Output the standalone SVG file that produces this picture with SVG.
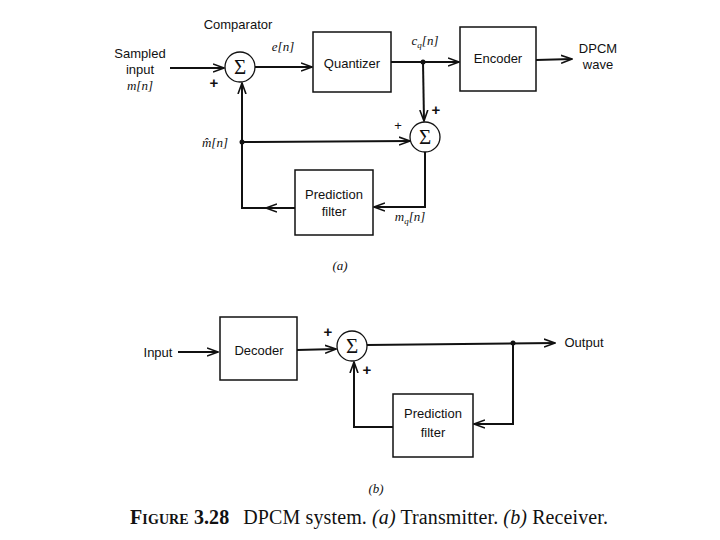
<svg xmlns="http://www.w3.org/2000/svg" width="720" height="540" viewBox="0 0 720 540">
<defs>
<marker id="ah" markerWidth="12" markerHeight="10" refX="11" refY="5" orient="auto" markerUnits="userSpaceOnUse">
<path d="M0,1 L11,5 L0,9" fill="none" stroke="#111" stroke-width="1.6"/>
</marker>
<style>
.box{fill:none;stroke:#111;stroke-width:1.5}
.ln{fill:none;stroke:#111;stroke-width:2}
.c{fill:#fff;stroke:#111;stroke-width:1.3}
.t{font-family:"Liberation Sans",Arial,sans-serif;font-size:13px;fill:#111}
.p{font-family:"Liberation Sans",Arial,sans-serif;font-size:15px;font-weight:bold;fill:#111}
.m{font-family:"Liberation Serif","Times New Roman",serif;font-style:italic;font-size:13px;fill:#111}
.sg{font-family:"Liberation Serif","Times New Roman",serif;font-size:21px;fill:#111}
.cap{font-family:"Liberation Serif","Times New Roman",serif;font-size:20px;fill:#111}
</style>
</defs>
<rect width="720" height="540" fill="#fff"/>

<g id="connectors">
<line class="ln" x1="170" y1="68" x2="224" y2="68" marker-end="url(#ah)"/>
<line class="ln" x1="255" y1="67" x2="312" y2="67" marker-end="url(#ah)"/>
<line class="ln" x1="391" y1="62" x2="459" y2="62" marker-end="url(#ah)"/>
<line class="ln" x1="536" y1="60" x2="572" y2="59" marker-end="url(#ah)"/>
<line class="ln" x1="423" y1="62" x2="424" y2="121" marker-end="url(#ah)"/>
<line class="ln" x1="242" y1="142" x2="410" y2="141" marker-end="url(#ah)"/>
<polyline class="ln" points="425,152 425,207 374,207" marker-end="url(#ah)"/>
<line class="ln" x1="295" y1="208" x2="266" y2="208" marker-end="url(#ah)"/>
<polyline class="ln" points="270,208 242,208 242,83" marker-end="url(#ah)"/>
<circle cx="423" cy="62" r="2.5" fill="#111"/>
<circle cx="242" cy="142" r="2.5" fill="#111"/>

<line class="ln" x1="178" y1="352" x2="218" y2="352" marker-end="url(#ah)"/>
<line class="ln" x1="297" y1="350" x2="336" y2="349" marker-end="url(#ah)"/>
<line class="ln" x1="367" y1="345" x2="555" y2="343" marker-end="url(#ah)"/>
<polyline class="ln" points="513,343 513,424 474,424" marker-end="url(#ah)"/>
<polyline class="ln" points="393,427 354,427 354,362" marker-end="url(#ah)"/>
<circle cx="513" cy="343" r="2.5" fill="#111"/>
</g>

<g id="comparator">
<circle class="c" cx="240" cy="67" r="15"/>
<text class="sg" x="240" y="74" text-anchor="middle">Σ</text>
<text class="t" x="238" y="29" text-anchor="middle">Comparator</text>
<text class="p" x="214" y="88" text-anchor="middle">+</text>
</g>
<g id="sampled-input">
<text class="t" x="140" y="58" text-anchor="middle">Sampled</text>
<text class="t" x="140" y="74" text-anchor="middle">input</text>
<text class="m" x="140" y="90" text-anchor="middle">m[n]</text>
</g>
<g id="quantizer">
<rect class="box" x="313" y="32" width="78" height="60"/>
<text class="t" x="352" y="68" text-anchor="middle">Quantizer</text>
<text class="m" x="283" y="51" text-anchor="middle">e[n]</text>
</g>
<g id="encoder">
<rect class="box" x="460" y="27" width="76" height="64"/>
<text class="t" x="498" y="63" text-anchor="middle">Encoder</text>
<text class="m" x="425" y="45" text-anchor="middle">c<tspan font-size="9" dy="3">q</tspan><tspan dy="-3">[n]</tspan></text>
</g>
<g id="dpcm-wave">
<text class="t" x="598" y="53" text-anchor="middle">DPCM</text>
<text class="t" x="598" y="69" text-anchor="middle">wave</text>
</g>
<g id="adder-tx">
<circle class="c" cx="425" cy="137" r="15"/>
<text class="sg" x="425" y="144" text-anchor="middle">Σ</text>
<text class="p" x="436" y="115" text-anchor="middle">+</text>
<text class="t" x="398" y="130" text-anchor="middle">+</text>
</g>
<g id="prediction-filter-tx">
<rect class="box" x="295" y="170" width="78" height="65"/>
<text class="t" x="334" y="199" text-anchor="middle">Prediction</text>
<text class="t" x="334" y="216" text-anchor="middle">filter</text>
<text class="m" x="410" y="221" text-anchor="middle">m<tspan font-size="9" dy="3">q</tspan><tspan dy="-3">[n]</tspan></text>
<text class="m" x="215" y="147" text-anchor="middle">m̂[n]</text>
</g>
<text class="m" x="340" y="270" text-anchor="middle">(a)</text>

<g id="input-rx">
<text class="t" x="158" y="357" text-anchor="middle">Input</text>
</g>
<g id="decoder">
<rect class="box" x="220" y="317" width="77" height="63"/>
<text class="t" x="259" y="355" text-anchor="middle">Decoder</text>
</g>
<g id="adder-rx">
<circle class="c" cx="352" cy="346" r="15"/>
<text class="sg" x="352" y="353" text-anchor="middle">Σ</text>
<text class="p" x="328" y="337" text-anchor="middle">+</text>
<text class="p" x="367" y="375" text-anchor="middle">+</text>
</g>
<g id="output-rx">
<text class="t" x="584" y="347" text-anchor="middle">Output</text>
</g>
<g id="prediction-filter-rx">
<rect class="box" x="393" y="394" width="80" height="63"/>
<text class="t" x="433" y="418" text-anchor="middle">Prediction</text>
<text class="t" x="433" y="437" text-anchor="middle">filter</text>
</g>
<text class="m" x="376" y="493" text-anchor="middle">(b)</text>

<text class="cap" x="130" y="524" textLength="478" lengthAdjust="spacing"><tspan font-weight="bold" font-variant="small-caps">Figure 3.28</tspan><tspan dx="14">DPCM system. </tspan><tspan font-style="italic">(a)</tspan> Transmitter. <tspan font-style="italic">(b)</tspan> Receiver.</text>
</svg>
